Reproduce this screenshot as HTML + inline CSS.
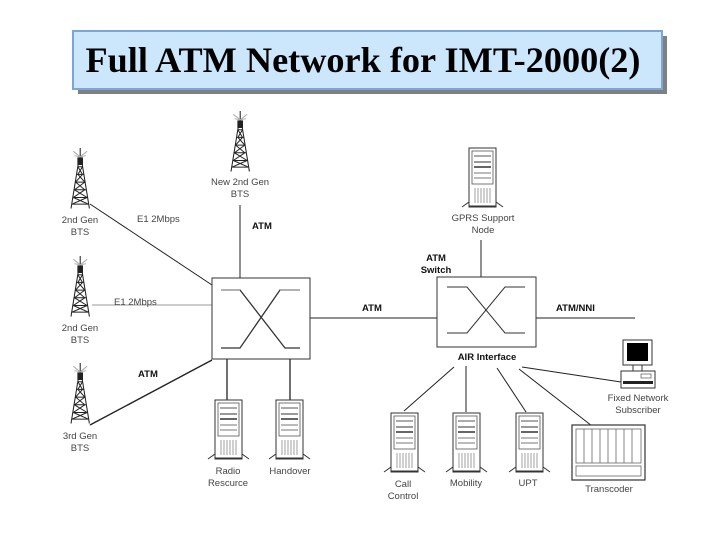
<!DOCTYPE html>
<html><head><meta charset="utf-8"><style>
body{margin:0;background:#fff;width:720px;height:540px;overflow:hidden}
svg{display:block}
.t{font-family:"Liberation Sans",sans-serif;font-size:9.5px;fill:#444}
.b{font-family:"Liberation Sans",sans-serif;font-size:9.5px;font-weight:bold;fill:#111}
</style></head><body>
<svg width="720" height="540" viewBox="0 0 720 540" xmlns="http://www.w3.org/2000/svg">
<defs>
<g id="srv">
<rect x="2" y="0" width="27" height="58" fill="#fff" stroke="#333" stroke-width="1"/>
<rect x="5" y="3" width="21" height="33" fill="#fff" stroke="#555" stroke-width="0.8"/>
<line x1="7" y1="8" x2="24" y2="8" stroke="#555"/>
<line x1="7" y1="14" x2="24" y2="14" stroke="#333"/>
<line x1="7" y1="19" x2="24" y2="19" stroke="#333" stroke-width="1.5"/>
<line x1="7" y1="25" x2="24" y2="25" stroke="#777"/>
<line x1="7" y1="30" x2="24" y2="30" stroke="#777"/>
<g stroke="#777" stroke-width="0.7"><line x1="8" y1="40" x2="8" y2="55"/><line x1="11" y1="40" x2="11" y2="55"/><line x1="14" y1="40" x2="14" y2="55"/><line x1="17" y1="40" x2="17" y2="55"/><line x1="20" y1="40" x2="20" y2="55"/><line x1="23" y1="40" x2="23" y2="55"/></g>
<polyline points="-5,59 2,54 2,59 29,59 29,54 36,59" fill="none" stroke="#333"/>
</g>
<g id="twr" fill="none" stroke="#222" stroke-width="0.9">
<line x1="8" y1="0" x2="8" y2="10"/>
<path d="M2,3 L8,8 L14,3 M3,7 L8,8 L13,7" stroke="#aaa"/>
<path d="M7,10 L0,55 M9,10 L16,55"/>
<path d="M7,10 L9,10 M6,17 L10,17 M5,24 L11,24 M4,31 L12,31 M3,38 L13,38 M2,45 L14,45 M1,51 L15,51"/>
<path d="M6,17 L10,24 L4,31 L12,38 L2,45 L15,51 M10,17 L6,24 L12,31 L3,38 L14,45 L1,51"/>
<rect x="6" y="9" width="4" height="6" fill="#222"/>
</g>
</defs>
<!-- title -->
<rect x="78" y="36" width="589" height="58" fill="#808080"/>
<rect x="73" y="31" width="589" height="58" fill="#cce6fb" stroke="#7aa6dc" stroke-width="2"/>
<text x="363" y="72" text-anchor="middle" font-family="Liberation Serif,serif" font-weight="bold" font-size="36" textLength="555" lengthAdjust="spacingAndGlyphs" fill="#000">Full ATM Network for IMT-2000(2)</text>
<!-- connectors -->
<g stroke="#222" fill="none">
<line x1="90" y1="204" x2="212" y2="285"/>
<line x1="92" y1="305" x2="212" y2="305" stroke="#999"/>
<line x1="90" y1="425" x2="212" y2="360" stroke-width="1.4"/>
<line x1="240" y1="205" x2="240" y2="278"/>
<line x1="310" y1="318" x2="437" y2="318"/>
<line x1="536" y1="318" x2="635" y2="318"/>
<line x1="481" y1="240" x2="481" y2="277"/>
<line x1="227" y1="359" x2="227" y2="400" stroke-width="1.3"/>
<line x1="290" y1="359" x2="290" y2="400" stroke-width="1.3"/>
<line x1="454" y1="367" x2="404" y2="411"/>
<line x1="466" y1="366" x2="466" y2="412"/>
<line x1="497" y1="368" x2="526" y2="412"/>
<line x1="519" y1="369" x2="592" y2="426"/>
<line x1="522" y1="367" x2="621" y2="382"/>
</g>
<!-- switches -->
<rect x="212" y="278" width="98" height="81" fill="#fff" stroke="#333"/>
<g stroke="#333" fill="none"><polyline points="221,290 240,290 285,348 300,348" stroke-width="1.3"/><polyline points="221,348 240,348 280,290 300,290" stroke-width="1.3"/></g>
<line x1="221" y1="290" x2="240" y2="290" stroke="#999"/><line x1="280" y1="290" x2="300" y2="290" stroke="#999"/>
<rect x="437" y="277" width="99" height="70" fill="#fff" stroke="#333"/>
<g stroke="#333" fill="none"><polyline points="447,287 467,287 505,333 525,333"/><polyline points="447,333 467,333 505,287 525,287"/></g>
<!-- towers -->
<use href="#twr" transform="translate(71,148) scale(1.15,1.1)"/>
<use href="#twr" transform="translate(71,256) scale(1.15,1.1)"/>
<use href="#twr" transform="translate(71,363) scale(1.15,1.1)"/>
<use href="#twr" transform="translate(231,111) scale(1.15,1.1)"/>
<!-- servers -->
<use href="#srv" x="213" y="400"/>
<use href="#srv" x="274" y="400"/>
<use href="#srv" x="467" y="148"/>
<use href="#srv" x="389" y="413"/>
<use href="#srv" x="451" y="413"/>
<use href="#srv" x="514" y="413"/>
<!-- transcoder -->
<rect x="572" y="425" width="73" height="55" fill="#fff" stroke="#333" stroke-width="1.2"/>
<g stroke="#666" fill="none" stroke-width="0.8">
<rect x="576" y="429" width="65" height="34"/>
<line x1="584" y1="429" x2="584" y2="463"/><line x1="592" y1="429" x2="592" y2="463"/><line x1="600" y1="429" x2="600" y2="463"/><line x1="608" y1="429" x2="608" y2="463"/><line x1="616" y1="429" x2="616" y2="463"/><line x1="624" y1="429" x2="624" y2="463"/><line x1="632" y1="429" x2="632" y2="463"/>
<rect x="576" y="466" width="65" height="10"/>
</g>
<!-- PC -->
<rect x="623" y="340" width="29" height="25" fill="#fff" stroke="#333"/>
<rect x="627" y="343" width="21" height="18" fill="#000"/>
<rect x="633" y="365" width="9" height="6" fill="#fff" stroke="#333"/>
<rect x="621" y="371" width="34" height="17" fill="#fff" stroke="#333"/>
<rect x="623" y="381" width="30" height="3" fill="#222"/>
<rect x="641" y="374" width="10" height="4" fill="#fff" stroke="#555" stroke-width="0.7"/>
<!-- labels -->
<text class="t" x="240" y="185" text-anchor="middle">New 2nd Gen</text>
<text class="t" x="240" y="197" text-anchor="middle">BTS</text>
<text class="t" x="80" y="223" text-anchor="middle">2nd Gen</text>
<text class="t" x="80" y="235" text-anchor="middle">BTS</text>
<text class="t" x="80" y="331" text-anchor="middle">2nd Gen</text>
<text class="t" x="80" y="343" text-anchor="middle">BTS</text>
<text class="t" x="80" y="439" text-anchor="middle">3rd Gen</text>
<text class="t" x="80" y="451" text-anchor="middle">BTS</text>
<text class="t" x="137" y="222">E1 2Mbps</text>
<text class="t" x="114" y="305">E1 2Mbps</text>
<text class="b" x="138" y="377">ATM</text>
<text class="b" x="252" y="229">ATM</text>
<text class="b" x="362" y="311">ATM</text>
<text class="b" x="556" y="311">ATM/NNI</text>
<text class="b" x="436" y="261" text-anchor="middle">ATM</text>
<text class="b" x="436" y="273" text-anchor="middle">Switch</text>
<text class="b" x="487" y="360" text-anchor="middle">AIR Interface</text>
<text class="t" x="483" y="221" text-anchor="middle">GPRS Support</text>
<text class="t" x="483" y="233" text-anchor="middle">Node</text>
<text class="t" x="228" y="474" text-anchor="middle">Radio</text>
<text class="t" x="228" y="486" text-anchor="middle">Rescurce</text>
<text class="t" x="290" y="474" text-anchor="middle">Handover</text>
<text class="t" x="403" y="487" text-anchor="middle">Call</text>
<text class="t" x="403" y="499" text-anchor="middle">Control</text>
<text class="t" x="466" y="486" text-anchor="middle">Mobility</text>
<text class="t" x="528" y="486" text-anchor="middle">UPT</text>
<text class="t" x="609" y="492" text-anchor="middle">Transcoder</text>
<text class="t" x="638" y="401" text-anchor="middle">Fixed Network</text>
<text class="t" x="638" y="413" text-anchor="middle">Subscriber</text>
</svg>
</body></html>
